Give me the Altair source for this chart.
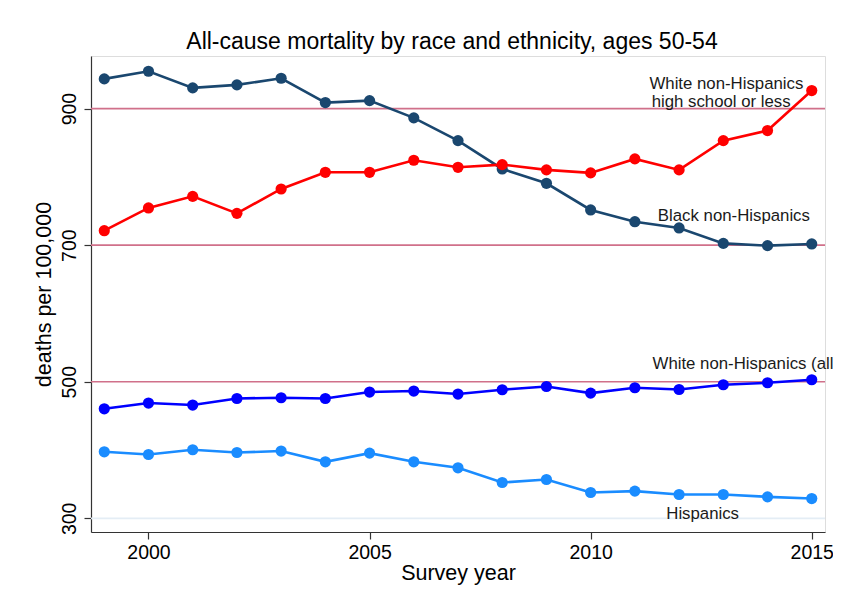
import altair as alt
import pandas as pd

years = list(range(1999, 2016))
black = [943.5, 954.7, 930.3, 934.7, 944.4, 908.8, 911.7, 886.4, 853.1, 811.6,
         790.6, 751.6, 734.4, 725.2, 702.6, 699.3, 701.8]
white_hs = [721.2, 754.5, 771.5, 746.6, 782.3, 806.7, 806.7, 824.3, 814.0, 818.0,
            810.2, 805.8, 826.3, 810.2, 853.1, 867.8, 926.4]
white_all = [460.4, 468.8, 465.9, 475.5, 476.6, 475.5, 484.9, 486.4, 482.0, 488.3,
             493.1, 483.4, 491.2, 488.7, 495.6, 498.5, 502.9]
hispanic = [397.4, 393.5, 400.4, 396.4, 398.5, 382.8, 395.5, 382.8, 374.0, 352.5,
            356.9, 337.8, 339.9, 334.9, 334.9, 331.5, 329.0]

series_names = ["Black", "WhiteHS", "WhiteAll", "Hispanic"]
series_colors = ["#1a476f", "#ff0000", "#0000ff", "#1a8cff"]

ref_values = [900, 700, 500]
base_value = [300]

label_text = ["White non-Hispanics", "high school or less", "Black non-Hispanics",
              "White non-Hispanics (all)", "Hispanics"]
label_year = [2011.33, 2011.38, 2011.52, 2011.40, 2011.71]
label_val = [936.5, 909.5, 743.0, 526.0, 306.0]

rows = []
for name, vals in zip(series_names, [black, white_hs, white_all, hispanic]):
    for yr, v in zip(years, vals):
        rows.append({"year": yr, "value": v, "series": name})
df = pd.DataFrame(rows)

FONT = "Liberation Sans"
xscale = alt.Scale(domain=[1998.7, 2015.3], nice=False, zero=False)
yscale = alt.Scale(domain=[280, 977], nice=False, zero=False)

rules = alt.Chart(pd.DataFrame({"v": ref_values})).mark_rule(
    color="#d0708a", strokeWidth=1.6
).encode(y=alt.Y("v:Q", scale=yscale))

base_rule = alt.Chart(pd.DataFrame({"v": base_value})).mark_rule(
    color="#e4edf5", strokeWidth=1.6
).encode(y=alt.Y("v:Q", scale=yscale))

lines = alt.Chart(df).mark_line(
    strokeWidth=2.6,
    point=alt.OverlayMarkDef(size=125, filled=True, opacity=1),
).encode(
    x=alt.X("year:Q", scale=xscale, title="Survey year",
            axis=alt.Axis(values=[2000, 2005, 2010, 2015], format="d", grid=False,
                          tickSize=7, labelPadding=4, titlePadding=1,
                          labelFontSize=19.5, titleFontSize=21.5,
                          labelFont=FONT, titleFont=FONT,
                          labelColor="#000", titleColor="#000",
                          titleFontWeight="normal",
                          domainColor="#333", tickColor="#333",
                          domainWidth=1.2, tickWidth=1.2)),
    y=alt.Y("value:Q", scale=yscale, title="deaths per 100,000",
            axis=alt.Axis(values=[300, 500, 700, 900], grid=False,
                          tickSize=7, labelPadding=5, titlePadding=4,
                          labelAngle=270, labelAlign="center", labelBaseline="bottom",
                          labelFontSize=19.5, titleFontSize=21.5,
                          labelFont=FONT, titleFont=FONT,
                          labelColor="#000", titleColor="#000",
                          titleFontWeight="normal",
                          domainColor="#333", tickColor="#333",
                          domainWidth=1.2, tickWidth=1.2)),
    color=alt.Color("series:N", scale=alt.Scale(domain=series_names, range=series_colors),
                    legend=None),
    order=alt.Order("year:Q"),
)

labels = alt.Chart(pd.DataFrame({"t": label_text, "x": label_year, "y": label_val})).mark_text(
    align="left", baseline="middle", font=FONT, fontSize=16.8, color="#1a1a1a"
).encode(x=alt.X("x:Q", scale=xscale), y=alt.Y("y:Q", scale=yscale), text="t:N")

chart = alt.layer(base_rule, rules, lines, labels).properties(
    width=734, height=476,
    title=alt.TitleParams("All-cause mortality by race and ethnicity, ages 50-54",
                          font=FONT, fontSize=23, fontWeight="normal", color="#000",
                          anchor="middle", frame="group", offset=2, dx=-6),
    autosize=alt.AutoSizeParams(type="none"),
    padding={"left": 83, "top": 48, "right": 8, "bottom": 60},
).configure_view(stroke=None).configure(background="white")

chart.save("out.html", embed_options={"renderer": "svg", "actions": False})
